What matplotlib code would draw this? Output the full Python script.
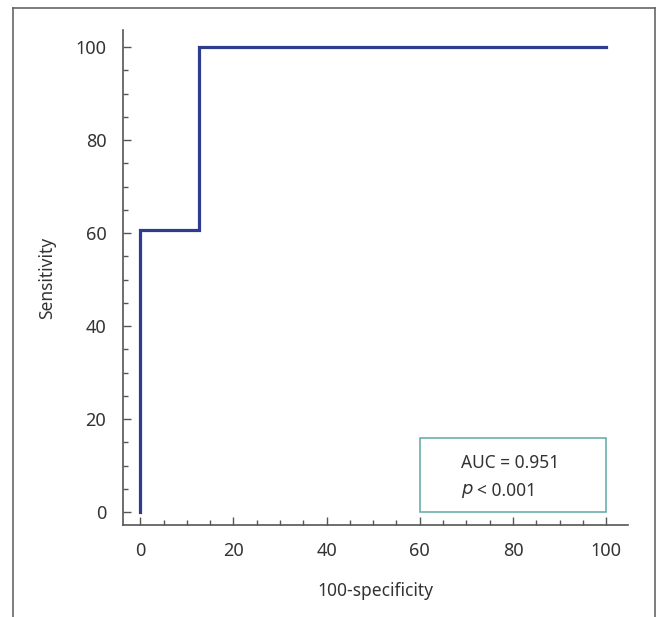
import matplotlib.pyplot as plt
from matplotlib.patches import Rectangle
from matplotlib.lines import Line2D
from matplotlib.ticker import MultipleLocator

plt.rcParams['font.family'] = ['Noto Sans', 'DejaVu Sans']

# ROC curve points (100-specificity, sensitivity)
fpr = [0, 0, 12.5, 12.5, 100]
tpr = [0, 60.7, 60.7, 100, 100]
auc_text = 'AUC = 0.951'
p_text = '< 0.001'

fig = plt.figure(figsize=(6.59, 6.17), dpi=100)
ax = fig.add_axes([0.1867, 0.149, 0.953 - 0.1867, 0.9514 - 0.149])

ax.plot(fpr, tpr, color='#2f3b8f', linewidth=2.3, solid_joinstyle='miter')

ax.set_xlim(-3.7, 104.7)
ax.set_ylim(-2.8, 103.7)
ax.xaxis.set_major_locator(MultipleLocator(20))
ax.yaxis.set_major_locator(MultipleLocator(20))
ax.xaxis.set_minor_locator(MultipleLocator(5))
ax.yaxis.set_minor_locator(MultipleLocator(5))
ax.tick_params(which='major', direction='in', length=6, width=1, color='#555555',
               labelsize=13, labelcolor='#333333', pad=12)
ax.tick_params(which='minor', direction='in', length=3.5, width=1, color='#555555')

for s in ['top', 'right']:
    ax.spines[s].set_visible(False)
for s in ['left', 'bottom']:
    ax.spines[s].set_color('#555555')
    ax.spines[s].set_linewidth(1.2)

ax.set_xlabel('100-specificity', fontsize=12.5, color='#333333', labelpad=16)
ax.set_ylabel('Sensitivity', fontsize=12.5, color='#333333', labelpad=14)

# annotation box
ax.add_patch(Rectangle((60, 0), 40, 16, fill=False, edgecolor='#5fa8a4', linewidth=1.1))
ax.text(68.8, 10.5, auc_text, fontsize=12.5, color='#333333', va='center')
ax.text(68.8, 4.5, '$\\it{p}$', fontsize=13, color='#333333', va='center')
ax.text(72.2, 4.5, p_text, fontsize=12.5, color='#333333', va='center')

# outer frame (open at the bottom)
fx0, fx1, fy1 = 13 / 659, 655 / 659, 1 - 8 / 617
for xs, ys in [([fx0, fx0], [0, fy1]), ([fx0, fx1], [fy1, fy1]), ([fx1, fx1], [fy1, 0])]:
    fig.add_artist(Line2D(xs, ys, color='#666666', linewidth=1.2, transform=fig.transFigure))

fig.savefig('out.png', dpi=100)
